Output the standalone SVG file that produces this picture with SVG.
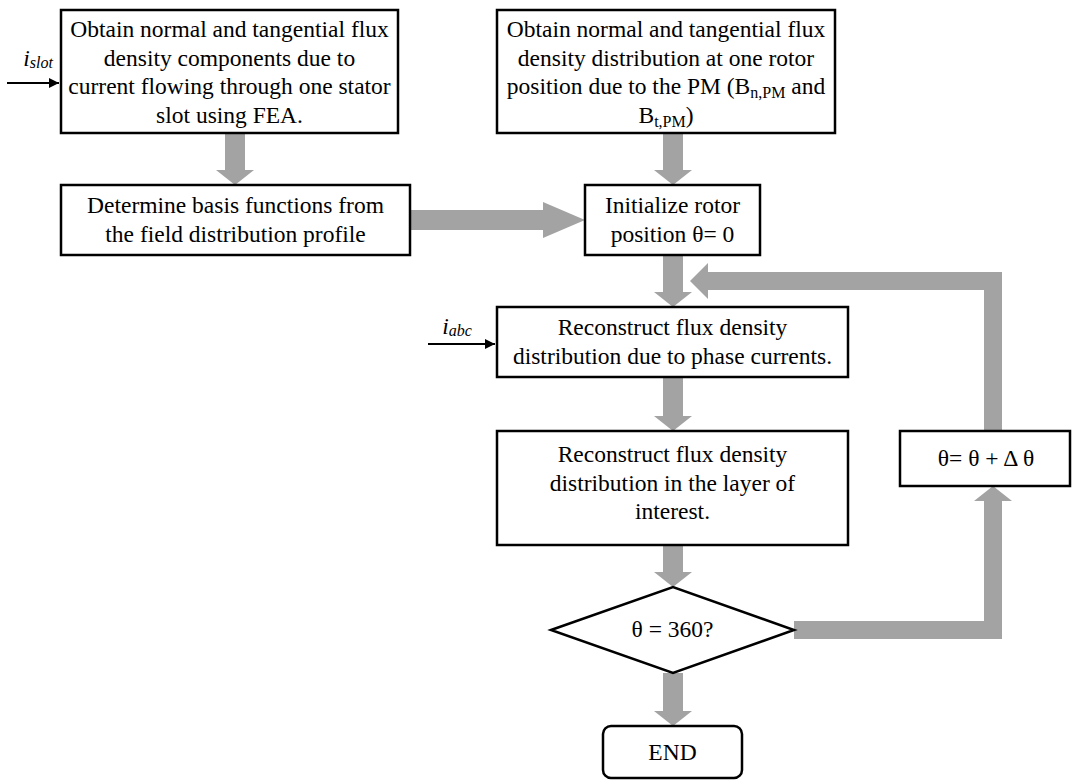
<svg xmlns="http://www.w3.org/2000/svg" width="1073" height="780" viewBox="0 0 1073 780">
<defs>
<style>
.box{fill:#fff;stroke:#000;stroke-width:2.5}
.t{font-family:"Liberation Serif","Times New Roman",serif;font-size:23.5px;fill:#000;text-anchor:middle}
.it{font-style:italic}
.sub{font-size:16px}
.arr{fill:#a3a3a3;stroke:none}
.in{stroke:#000;stroke-width:2;fill:none}
</style>
<marker id="ah" viewBox="0 0 10 10" refX="10" refY="5" markerWidth="6" markerHeight="5" markerUnits="strokeWidth" orient="auto">
<path d="M0,0 L10,5 L0,10 z" fill="#000"/>
</marker>
</defs>
<rect width="1073" height="780" fill="#fff"/>
<g id="connectors">
<polygon class="arr" points="225,133 245,133 245,170 254,170 235,185 216,170 225,170"/>
<polygon class="arr" points="663,133 683,133 683,170 692,170 673,185 654,170 663,170"/>
<polygon class="arr" points="410,210 543,210 543,202 585,220 543,238 543,230 410,230"/>
<polygon class="arr" points="663,255 683,255 683,292 692,292 673,307 654,292 663,292"/>
<polygon class="arr" points="663,377 683,377 683,416 692,416 673,431 654,416 663,416"/>
<polygon class="arr" points="663,545 683,545 683,572 692,572 673,587 654,572 663,572"/>
<polygon class="arr" points="663,673 683,673 683,711 692,711 673,726 654,711 663,711"/>
<polygon class="arr" points="984,431 1002,431 1002,272 708,272 708,263 690,281 708,299 708,290 984,290"/>
<polygon class="arr" points="794,621 984,621 984,501 974,501 993,486 1012,501 1002,501 1002,639 794,639"/>
<line class="in" x1="7" y1="83" x2="59" y2="83" marker-end="url(#ah)"/>
<text class="t it" x="38" y="66">i<tspan class="sub" dy="2">slot</tspan></text>
<line class="in" x1="428" y1="344" x2="495" y2="344" marker-end="url(#ah)"/>
<text class="t it" x="457" y="334">i<tspan class="sub" dy="2">abc</tspan></text>
</g>
<g id="n1">
<rect class="box" x="61" y="10" width="337" height="123"/>
<text class="t" x="229.5" y="37">Obtain normal and tangential flux</text>
<text class="t" x="229.5" y="65.5">density components due to</text>
<text class="t" x="229.5" y="94">current flowing through one stator</text>
<text class="t" x="229.5" y="122.5">slot using FEA.</text>
</g>
<g id="n2">
<rect class="box" x="497" y="10" width="338" height="123"/>
<text class="t" x="666" y="37">Obtain normal and tangential flux</text>
<text class="t" x="666" y="65.5">density distribution at one rotor</text>
<text class="t" x="666" y="94">position due to the PM (B<tspan class="sub" dy="4">n,PM</tspan><tspan dy="-4"> and</tspan></text>
<text class="t" x="666" y="122.5">B<tspan class="sub" dy="4">t,PM</tspan><tspan dy="-4">)</tspan></text>
</g>
<g id="n3">
<rect class="box" x="61" y="185" width="349" height="70"/>
<text class="t" x="235.5" y="213">Determine basis functions from</text>
<text class="t" x="235.5" y="241.5">the field distribution profile</text>
</g>
<g id="n4">
<rect class="box" x="585" y="185" width="175" height="70"/>
<text class="t" x="672.5" y="213">Initialize rotor</text>
<text class="t" x="672.5" y="241.5">position θ= 0</text>
</g>
<g id="n5">
<rect class="box" x="497" y="307" width="351" height="70"/>
<text class="t" x="672.5" y="335">Reconstruct flux density</text>
<text class="t" x="672.5" y="363.5">distribution due to phase currents.</text>
</g>
<g id="n6">
<rect class="box" x="497" y="431" width="351" height="114"/>
<text class="t" x="672.5" y="462">Reconstruct flux density</text>
<text class="t" x="672.5" y="490.5">distribution in the layer of</text>
<text class="t" x="672.5" y="519">interest.</text>
</g>
<g id="n7">
<rect class="box" x="900" y="431" width="170" height="55"/>
<text class="t" x="986" y="466">θ= θ + Δ θ</text>
</g>
<g id="n8">
<polygon class="box" points="551,630 673,587 794,630 673,673"/>
<text class="t" x="672.5" y="637">θ = 360?</text>
</g>
<g id="n9">
<rect class="box" x="603" y="726" width="139" height="52" rx="8"/>
<text class="t" x="672.5" y="760">END</text>
</g>
</svg>
